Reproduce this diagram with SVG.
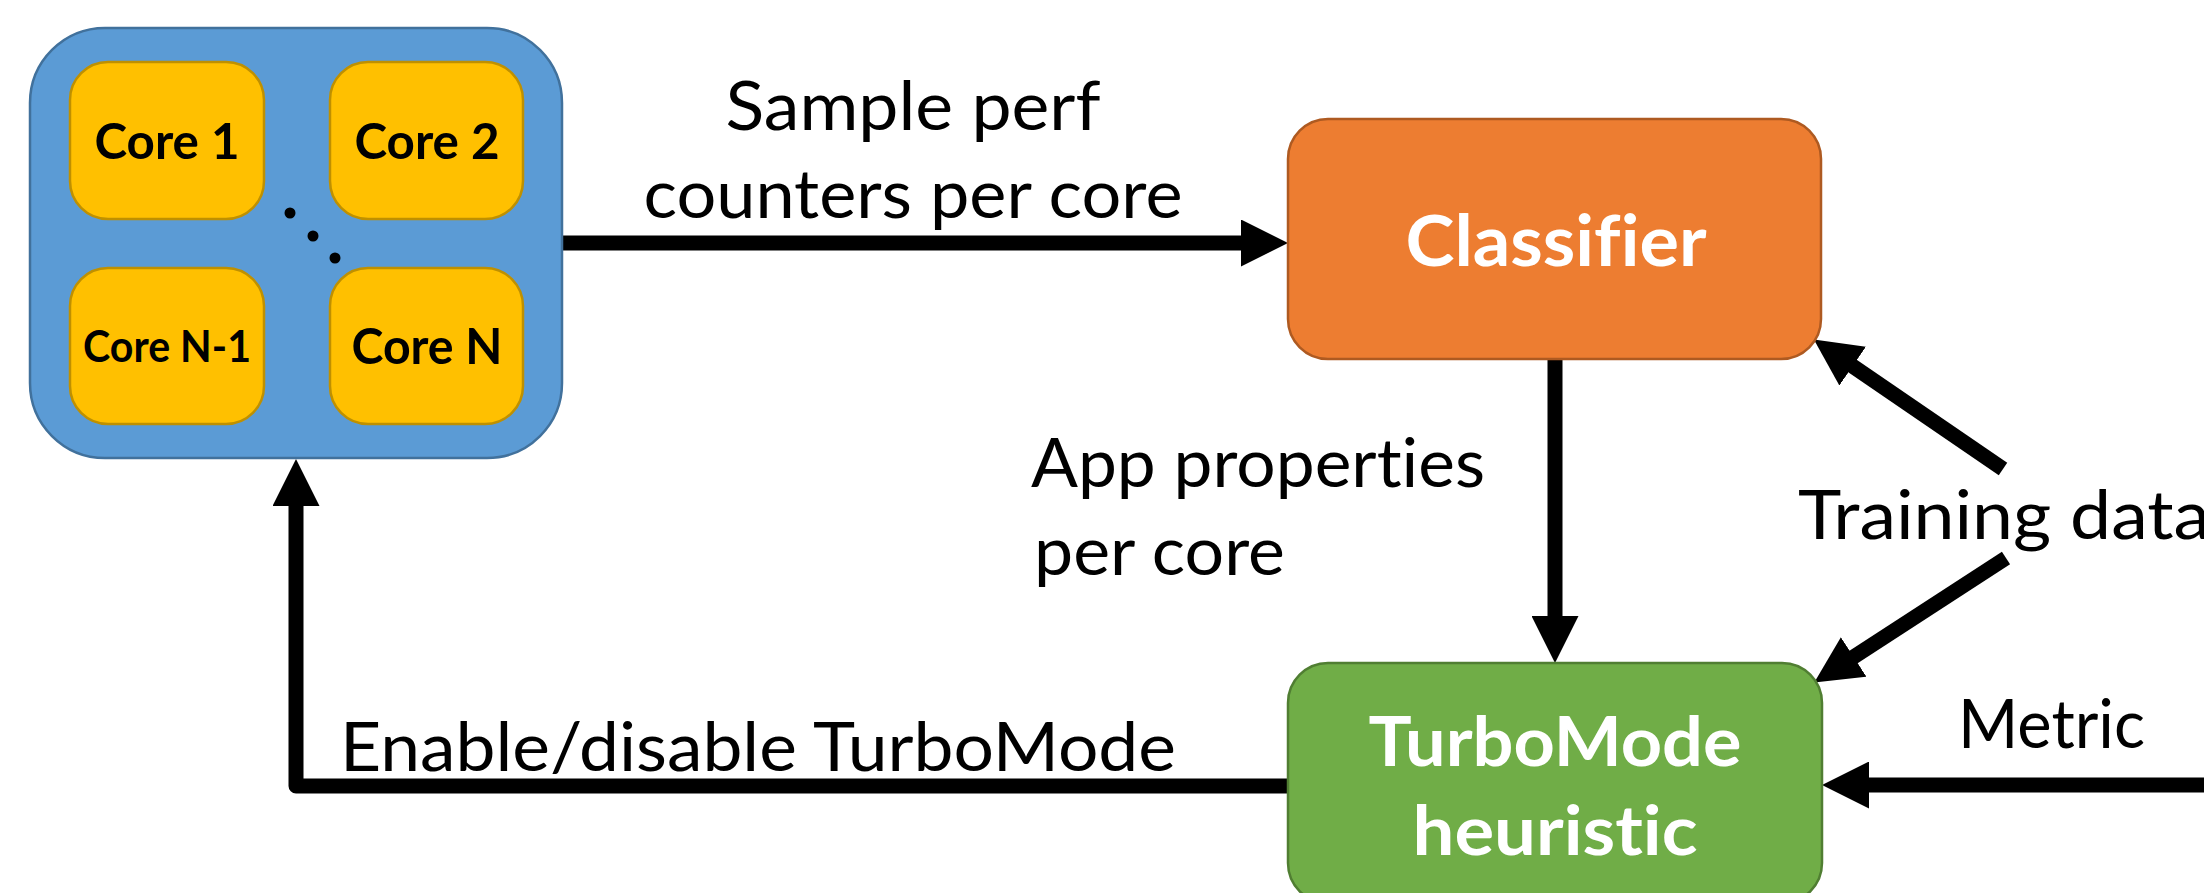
<svg xmlns="http://www.w3.org/2000/svg" width="2204" height="893" viewBox="0 0 2204 893">
<defs>
<style>
text{font-variant-ligatures:none;font-feature-settings:"liga" 0,"clig" 0,"dlig" 0}
.lbl{font-family:Lato,"Liberation Sans",sans-serif;font-size:68px;fill:#000}
.core{font-family:Lato,"Liberation Sans",sans-serif;font-weight:700;fill:#000;text-anchor:middle}
.big{font-family:Lato,"Liberation Sans",sans-serif;font-weight:700;fill:#fff;text-anchor:middle}
.conn{fill:none;stroke:#000;stroke-width:15;stroke-linejoin:round}
.corebox{fill:#FFC000;stroke:#BF9000;stroke-width:2.5}
</style>
<marker id="ah" markerUnits="userSpaceOnUse" markerWidth="47" markerHeight="47" viewBox="0 0 47 47" refX="2" refY="23.5" orient="auto">
<path d="M0,0 L47,23.5 L0,47 Z" fill="#000"/>
</marker>
</defs>
<rect width="2204" height="893" fill="#fff"/>

<g id="connectors">
<line class="conn" x1="562" y1="243" x2="1243" y2="243" marker-end="url(#ah)"/>
<line class="conn" x1="1555" y1="359" x2="1555" y2="618" marker-end="url(#ah)"/>
<path class="conn" d="M1288,786 H296 V504" marker-end="url(#ah)"/>
<line class="conn" x1="2215" y1="785" x2="1867" y2="785" marker-end="url(#ah)"/>
<line class="conn" x1="2003" y1="469" x2="1851" y2="365" marker-end="url(#ah)"/>
<line class="conn" x1="2006" y1="558" x2="1852" y2="658" marker-end="url(#ah)"/>
<text class="lbl" x="913" y="130" text-anchor="middle" textLength="375" lengthAdjust="spacingAndGlyphs">Sample perf</text>
<text class="lbl" x="913" y="218" text-anchor="middle" textLength="539" lengthAdjust="spacingAndGlyphs">counters per core</text>
<text class="lbl" x="1031" y="487" textLength="454" lengthAdjust="spacingAndGlyphs">App properties</text>
<text class="lbl" x="1034" y="575" textLength="251" lengthAdjust="spacingAndGlyphs">per core</text>
<text class="lbl" x="340" y="771" textLength="836" lengthAdjust="spacingAndGlyphs">Enable/disable TurboMode</text>
<text class="lbl" x="1958" y="748" textLength="187" lengthAdjust="spacingAndGlyphs">Metric</text>
<text class="lbl" x="1798" y="539" textLength="412" lengthAdjust="spacingAndGlyphs">Training data</text>
</g>

<g id="multicore">
<rect x="30" y="28" width="532" height="430" rx="75" ry="75" fill="#5B9BD5" stroke="#41719C" stroke-width="2.5"/>
<g id="core1">
<rect class="corebox" x="70" y="62" width="194" height="157" rx="38" ry="38"/>
<text class="core" x="167" y="159" font-size="50" textLength="145" lengthAdjust="spacingAndGlyphs">Core 1</text>
</g>
<g id="core2">
<rect class="corebox" x="330" y="62" width="193" height="157" rx="38" ry="38"/>
<text class="core" x="427" y="159" font-size="50" textLength="145" lengthAdjust="spacingAndGlyphs">Core 2</text>
</g>
<g id="coreN1">
<rect class="corebox" x="70" y="268" width="194" height="156" rx="38" ry="38"/>
<text class="core" x="167" y="362" font-size="43" textLength="168" lengthAdjust="spacingAndGlyphs">Core N-1</text>
</g>
<g id="coreN">
<rect class="corebox" x="330" y="268" width="193" height="156" rx="38" ry="38"/>
<text class="core" x="427" y="364" font-size="49" textLength="151" lengthAdjust="spacingAndGlyphs">Core N</text>
</g>
<circle cx="290" cy="213" r="5.5" fill="#000"/>
<circle cx="313" cy="236" r="5.5" fill="#000"/>
<circle cx="335" cy="258" r="5.5" fill="#000"/>
</g>

<g id="classifier">
<rect x="1288" y="119" width="533" height="240" rx="40" ry="40" fill="#ED7D31" stroke="#AE5A21" stroke-width="2.5"/>
<text class="big" x="1556" y="266" font-size="71" textLength="301" lengthAdjust="spacingAndGlyphs">Classifier</text>
</g>

<g id="turbomode">
<rect x="1288" y="663" width="534" height="240" rx="40" ry="40" fill="#70AD47" stroke="#507E32" stroke-width="2.5"/>
<text class="big" x="1555" y="766" font-size="68" textLength="373" lengthAdjust="spacingAndGlyphs">TurboMode</text>
<text class="big" x="1555" y="855" font-size="68" textLength="285" lengthAdjust="spacingAndGlyphs">heuristic</text>
</g>
</svg>
